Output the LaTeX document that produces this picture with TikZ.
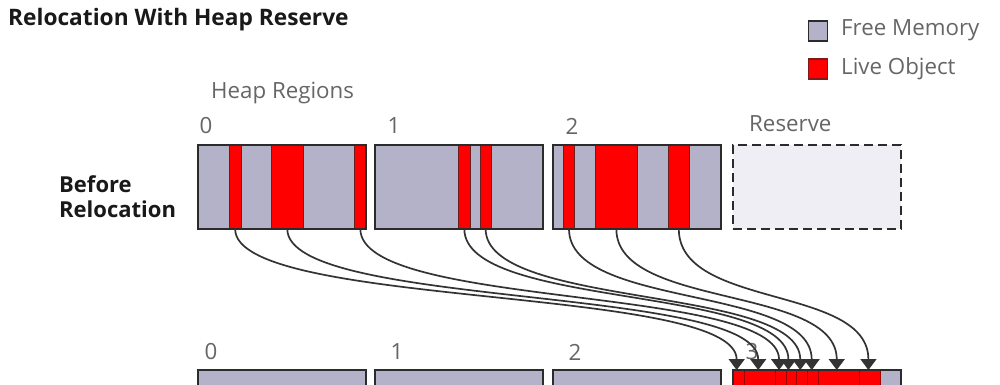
\documentclass[tikz,border=0pt]{standalone}
\usepackage{fontspec}
\setmainfont{Open Sans}
\usetikzlibrary{arrows.meta}
\definecolor{freec}{HTML}{B4B2C9}
\definecolor{livec}{HTML}{FF0000}
\definecolor{edgec}{HTML}{2B2B2B}
\definecolor{resc}{HTML}{EEEEF4}
\definecolor{labc}{HTML}{666666}
\definecolor{arrc}{HTML}{333333}
\definecolor{divc}{HTML}{A00000}
\tikzset{
  region/.style={draw=edgec, line width=1.6pt, fill=freec, minimum width=168pt, minimum height=84pt, anchor=north west, inner sep=0pt, outer sep=0pt},
  reserve/.style={draw=edgec, line width=1.6pt, fill=resc, dash pattern=on 9pt off 5pt, minimum width=168pt, minimum height=84pt, anchor=north west, inner sep=0pt, outer sep=0pt},
  live/.style={draw=edgec!70!red, line width=1pt, fill=livec, minimum height=84pt, anchor=north west, inner sep=0pt, outer sep=0pt},
  moved/.style={draw=divc, line width=0.8pt, fill=livec, minimum height=84pt, anchor=north west, inner sep=0pt, outer sep=0pt},
  border/.style={draw=edgec, line width=1.6pt},
  lab/.style={text=labc, font=\fontsize{22.3}{26}\selectfont, inner sep=0pt},
  conn/.style={draw=arrc, line width=1.7pt, -{Triangle[width=16pt,length=11pt]}},
  legbox/.style={draw=edgec, line width=1.6pt, minimum width=19pt, minimum height=20pt, inner sep=0pt},
}
\begin{document}
\begin{tikzpicture}[x=1pt,y=-1pt]
\clip (0,0) rectangle (1000,385);
\fill[white] (0,0) rectangle (1000,385);
% title
\node[anchor=west, inner sep=0pt, text=black!90, font=\bfseries\fontsize{22.7}{26}\selectfont] (title) at (8,20) {Relocation With Heap Reserve};
% legend
\node[legbox, fill=freec] (lf) at (818,31) {};
\node[anchor=west, lab] (lft) at (841,30) {Free Memory};
\node[legbox, fill=livec, draw=edgec!60!red] (ll) at (818,69) {};
\node[anchor=west, lab] (llt) at (841,69) {Live Object};
% labels
\node[anchor=west, lab] (hr) at (211,93) {Heap Regions};
\node[lab] (n0) at (206,126) {0};
\node[lab] (n1) at (394,126) {1};
\node[lab] (n2) at (572,126) {2};
\node[anchor=west, lab] (nres) at (749,124) {Reserve};
\node[anchor=west, align=left, inner sep=0pt, text=black!90, font=\bfseries\fontsize{22}{25}\selectfont] (before) at (59,197) {Before\\Relocation};
% top regions
\node[region] (r0) at (198,145) {};
\node[region] (r1) at (375,145) {};
\node[region] (r2) at (553,145) {};
\node[reserve] (rr) at (733,145) {};
% live objects top
\node[live, minimum width=11.7pt] (o1) at (229.3,145) {};
\node[live, minimum width=32pt]   (o2) at (271.3,145) {};
\node[live, minimum width=11.3pt] (o3) at (354.7,145) {};
\node[live, minimum width=11.3pt] (o4) at (458.7,145) {};
\node[live, minimum width=11.3pt] (o5) at (480,145) {};
\node[live, minimum width=11.4pt] (o6) at (563.3,145) {};
\node[live, minimum width=42.7pt] (o7) at (595,145) {};
\node[live, minimum width=21pt]   (o8) at (668.3,145) {};
\foreach \r in {r0,r1,r2} \draw[border] (\r.north west) rectangle (\r.south east);
% bottom regions
\node[region] (b0) at (198,370) {};
\node[region] (b1) at (375,370) {};
\node[region] (b2) at (553,370) {};
\node[region] (b3) at (733,370) {};
\node[moved, minimum width=11.3pt] (m1) at (733,370) {};
\node[moved, minimum width=30.8pt] (m2) at (744.3,370) {};
\node[moved, minimum width=10.9pt] (m3) at (775.1,370) {};
\node[moved, minimum width=10.8pt] (m4) at (786,370) {};
\node[moved, minimum width=10.9pt] (m5) at (796.8,370) {};
\node[moved, minimum width=11pt]   (m6) at (807.7,370) {};
\node[moved, minimum width=41.1pt] (m7) at (818.7,370) {};
\node[moved, minimum width=20.2pt] (m8) at (859.8,370) {};
\foreach \r in {b0,b1,b2,b3} \draw[border] (\r.north west) rectangle (\r.south east);
\node[lab] (p0) at (211,352) {0};
\node[lab] (p1) at (397,352) {1};
\node[lab] (p2) at (575,352) {2};
\node[lab] (p3) at (752,352) {3};
% connectors
\draw[conn] (o1.south) .. controls +(0,80) and +(0,-85) .. ([xshift=-2pt]m1.north);
\draw[conn] (o2.south) .. controls +(0,80) and +(0,-85) .. ([xshift=-1.5pt]m2.north);
\draw[conn] (o3.south) .. controls +(0,80) and +(0,-85) .. ([xshift=-1.5pt]m3.north);
\draw[conn] (o4.south) .. controls +(0,80) and +(0,-85) .. ([xshift=-3pt]m4.north);
\draw[conn] (o5.south) .. controls +(0,80) and +(0,-85) .. ([xshift=-2pt]m5.north);
\draw[conn] (o6.south) .. controls +(0,80) and +(0,-85) .. ([xshift=-1.5pt]m6.north);
\draw[conn] (o7.south) .. controls +(0,80) and +(0,-85) .. ([xshift=-2.5pt]m7.north);
\draw[conn] (o8.south) .. controls +(0,80) and +(0,-85) .. ([xshift=-1.5pt]m8.north);
\end{tikzpicture}
\end{document}
